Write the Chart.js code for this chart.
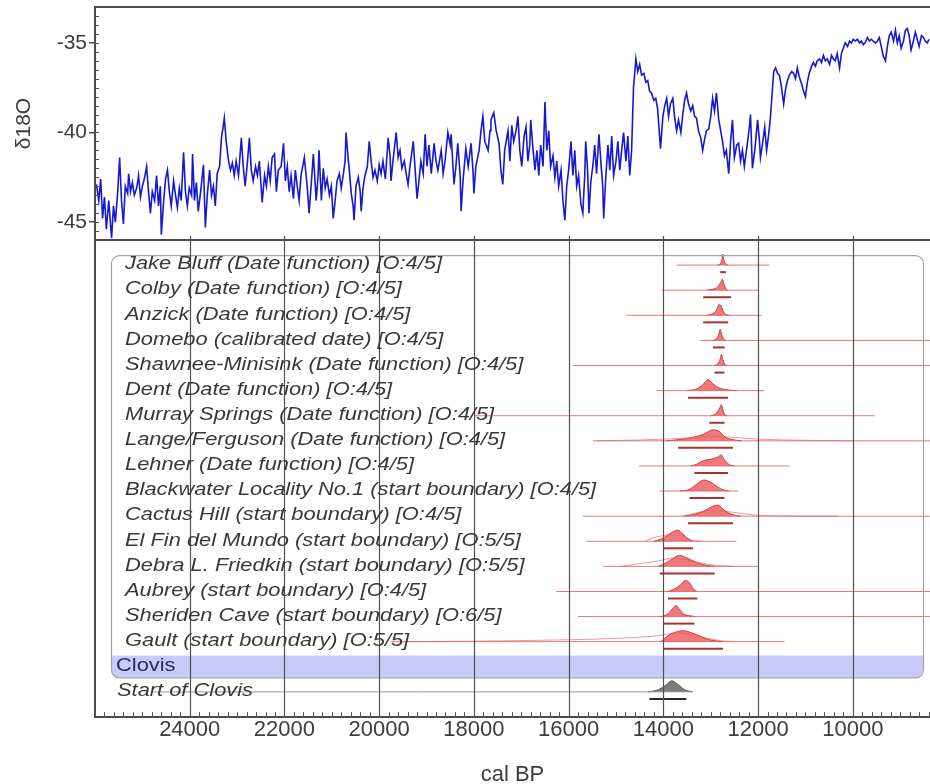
<!DOCTYPE html>
<html>
<head>
<meta charset="utf-8">
<script src="https://cdn.jsdelivr.net/npm/chart.js@4.4.1/dist/chart.umd.min.js"></script>
<style>
  html, body { margin: 0; padding: 0; background: #fff; }
  #wrap { width: 930px; height: 784px; position: relative; }
</style>
</head>
<body>
<div id="wrap"><canvas id="chart"></canvas></div>
<script>
// Ice core δ18O record (top panel) and Clovis site chronology (bottom panel), cal BP.

const xTicks = [24000, 22000, 20000, 18000, 16000, 14000, 12000, 10000];
const d18oTicks = [-45, -40, -35];

const iceYears = [
  25970, 25920, 25880, 25840, 25800, 25760, 25710, 25650, 25610, 25570,
  25520, 25480, 25440, 25400, 25360, 25310, 25290, 25250, 25210, 25170,
  25120, 25080, 25040, 25000, 24960, 24910, 24870, 24830, 24790, 24740,
  24700, 24660, 24620, 24600, 24550, 24510, 24470, 24430, 24390, 24340,
  24300, 24260, 24220, 24180, 24130, 24090, 24050, 24010, 23960, 23940,
  23900, 23860, 23820, 23770, 23710, 23670, 23630, 23580, 23540, 23500,
  23460, 23420, 23370, 23330, 23290, 23270, 23230, 23180, 23140, 23100,
  23060, 23020, 22970, 22910, 22870, 22830, 22780, 22740, 22700, 22660,
  22610, 22570, 22530, 22470, 22420, 22380, 22340, 22300, 22260, 22210,
  22170, 22130, 22070, 22020, 21980, 21940, 21900, 21860, 21810, 21770,
  21730, 21690, 21650, 21580, 21520, 21480, 21430, 21390, 21330, 21290,
  21270, 21220, 21180, 21140, 21100, 21050, 21010, 20970, 20930, 20890,
  20840, 20800, 20760, 20720, 20700, 20650, 20630, 20590, 20550, 20530,
  20490, 20440, 20400, 20380, 20340, 20300, 20250, 20210, 20170, 20130,
  20090, 20040, 20000, 19960, 19920, 19870, 19810, 19770, 19750, 19710,
  19640, 19600, 19560, 19520, 19470, 19430, 19390, 19350, 19280, 19240,
  19200, 19160, 19120, 19070, 19030, 18990, 18950, 18900, 18840, 18800,
  18760, 18690, 18650, 18610, 18550, 18500, 18480, 18420, 18380, 18340,
  18290, 18270, 18230, 18170, 18120, 18060, 18020, 18000, 17960, 17890,
  17850, 17810, 17770, 17700, 17660, 17640, 17580, 17530, 17470, 17430,
  17390, 17350, 17280, 17240, 17200, 17160, 17110, 17070, 17030, 16990,
  16940, 16900, 16860, 16820, 16800, 16750, 16710, 16670, 16630, 16590,
  16540, 16500, 16460, 16420, 16380, 16330, 16290, 16250, 16210, 16160,
  16120, 16080, 16040, 16000, 15950, 15910, 15870, 15830, 15790, 15740,
  15700, 15660, 15640, 15600, 15570, 15530, 15490, 15450, 15410, 15360,
  15320, 15280, 15260, 15220, 15170, 15130, 15090, 15050, 15000, 14960,
  14920, 14880, 14840, 14790, 14750, 14710, 14670, 14630, 14580, 14540,
  14500, 14460, 14410, 14370, 14330, 14290, 14250, 14200, 14160, 14120,
  14060, 14010, 13970, 13930, 13890, 13850, 13800, 13760, 13720, 13680,
  13630, 13590, 13550, 13510, 13470, 13420, 13380, 13340, 13300, 13260,
  13210, 13170, 13130, 13090, 13040, 13000, 12960, 12920, 12880, 12830,
  12790, 12750, 12710, 12670, 12620, 12580, 12540, 12500, 12450, 12410,
  12370, 12330, 12290, 12220, 12180, 12160, 12120, 12070, 12010, 11970,
  11950, 11910, 11860, 11820, 11780, 11740, 11700, 11670, 11630, 11590,
  11550, 11510, 11460, 11420, 11380, 11340, 11290, 11250, 11210, 11170,
  11130, 11080, 11040, 11000, 10960, 10920, 10870, 10830, 10790, 10750,
  10700, 10660, 10620, 10580, 10540, 10490, 10450, 10410, 10370, 10330,
  10280, 10240, 10200, 10160, 10110, 10070, 10030, 9990, 9950, 9900,
  9860, 9820, 9780, 9740, 9690, 9650, 9610, 9570, 9520, 9480,
  9440, 9400, 9360, 9310, 9270, 9230, 9190, 9140, 9100, 9060,
  9020, 8980, 8930, 8890, 8850, 8810, 8770, 8720, 8680, 8640,
  8600, 8550, 8510, 8470, 8430, 8390
];

const iceD18O = [
  -42.9, -43.8, -42.6, -44.8, -43.6, -45.4, -43.8, -45.9, -44.1, -45.0,
  -43.3, -41.4, -43.8, -45.1, -43.0, -43.4, -42.3, -43.3, -42.8, -43.5,
  -43.1, -42.4, -43.6, -43.0, -42.6, -41.9, -43.3, -44.5, -43.3, -43.8,
  -42.4, -44.1, -43.0, -45.7, -43.8, -42.6, -42.1, -43.3, -44.1, -42.7,
  -43.5, -44.2, -43.1, -43.8, -41.1, -43.3, -44.1, -43.1, -43.5, -41.2,
  -43.8, -42.8, -44.4, -43.3, -41.8, -45.3, -43.5, -42.1, -43.5, -43.0,
  -44.1, -42.3, -41.9, -40.3, -39.6, -39.2, -40.5, -41.6, -42.1, -41.7,
  -42.4, -41.6, -42.4, -40.3, -41.9, -43.0, -41.6, -40.3, -42.1, -42.7,
  -41.9, -42.4, -41.6, -43.9, -42.4, -43.0, -41.9, -42.7, -41.4, -41.2,
  -43.3, -42.1, -41.9, -40.6, -42.7, -41.9, -43.3, -42.4, -43.7, -42.1,
  -43.0, -43.8, -42.4, -41.4, -43.0, -44.5, -42.7, -41.2, -43.8, -42.4,
  -41.0, -43.8, -42.0, -43.1, -42.6, -43.5, -43.0, -44.8, -43.8, -42.7,
  -42.3, -43.1, -42.4, -41.6, -40.0, -41.6, -42.1, -43.4, -44.1, -44.9,
  -43.0, -42.5, -43.3, -44.4, -43.1, -42.4, -41.9, -40.5, -41.6, -42.5,
  -42.1, -42.7, -41.8, -42.3, -41.6, -42.6, -40.3, -41.3, -42.7, -41.6,
  -40.0, -41.4, -41.0, -42.0, -41.6, -42.3, -42.9, -41.9, -40.5, -42.1,
  -43.7, -42.7, -41.6, -42.3, -40.1, -41.9, -40.7, -42.3, -40.6, -41.6,
  -42.1, -41.0, -42.3, -41.6, -40.0, -40.7, -40.1, -42.9, -41.9, -40.6,
  -42.4, -44.4, -42.7, -40.9, -41.9, -40.6, -42.1, -43.4, -41.9, -41.0,
  -39.9, -39.1, -40.5, -41.0, -39.9, -39.3, -38.9, -39.9, -40.6, -42.1,
  -42.9, -41.0, -39.9, -41.6, -39.6, -40.5, -39.9, -39.1, -41.0, -41.9,
  -40.2, -39.7, -41.6, -40.7, -39.3, -41.0, -42.1, -41.0, -42.4, -40.7,
  -41.9, -38.3, -41.0, -39.9, -41.9, -41.3, -42.5, -41.6, -43.0, -42.1,
  -43.8, -44.9, -43.0, -42.1, -40.5, -42.4, -41.0, -43.0, -42.4, -44.0,
  -44.5, -42.4, -40.5, -42.1, -44.5, -42.7, -41.9, -40.7, -42.3, -40.1,
  -41.6, -43.0, -44.8, -42.7, -40.7, -42.1, -40.2, -42.4, -41.6, -40.5,
  -42.1, -41.0, -40.0, -41.6, -40.2, -42.4, -41.0, -37.5, -35.9, -36.6,
  -36.2, -36.8, -36.7, -37.2, -37.1, -37.7, -37.8, -38.2, -38.1, -38.7,
  -40.9, -39.1, -38.5, -38.1, -39.1, -38.4, -38.1, -39.2, -39.9, -39.3,
  -40.0, -39.0, -38.2, -37.8, -38.4, -38.8, -38.5, -39.1, -39.2, -39.9,
  -40.3, -41.0, -40.4, -39.9, -39.8, -39.1, -38.1, -38.8, -37.8, -39.3,
  -39.9, -40.5, -41.3, -41.0, -42.3, -40.5, -39.3, -41.4, -40.7, -40.6,
  -41.6, -41.0, -41.9, -40.5, -39.6, -39.0, -42.0, -41.0, -39.3, -40.5,
  -41.4, -40.7, -39.7, -41.0, -40.2, -39.2, -37.7, -36.6, -36.4, -36.7,
  -36.8, -37.4, -38.4, -37.6, -37.1, -36.8, -36.6, -36.7, -37.0, -36.4,
  -36.9, -37.3, -37.7, -38.0, -37.2, -36.7, -36.3, -36.1, -36.3, -36.0,
  -35.9, -36.1, -35.7, -36.0, -35.9, -36.2, -35.7, -35.9, -36.0, -35.6,
  -36.4, -35.6, -35.3, -35.0, -35.2, -34.9, -35.0, -34.8, -34.9, -34.8,
  -35.0, -34.9, -35.1, -35.0, -34.7, -34.9, -34.8, -34.9, -35.0, -34.9,
  -34.7, -35.2, -35.7, -36.0, -35.2, -34.6, -34.4, -34.9, -34.3, -35.0,
  -34.6, -35.3, -34.9, -34.3, -34.2, -34.6, -35.4, -34.9, -34.4, -34.8,
  -35.2, -34.6, -34.7, -34.9, -35.0, -34.8
];

const siteNames = [
  'Jake Bluff (Date function) [O:4/5]',
  'Colby (Date function) [O:4/5]',
  'Anzick (Date function) [O:4/5]',
  'Domebo (calibrated date) [O:4/5]',
  'Shawnee-Minisink (Date function) [O:4/5]',
  'Dent (Date function) [O:4/5]',
  'Murray Springs (Date function) [O:4/5]',
  'Lange/Ferguson (Date function) [O:4/5]',
  'Lehner (Date function) [O:4/5]',
  'Blackwater Locality No.1 (start boundary) [O:4/5]',
  'Cactus Hill (start boundary) [O:4/5]',
  'El Fin del Mundo (start boundary) [O:5/5]',
  'Debra L. Friedkin (start boundary) [O:5/5]',
  'Aubrey (start boundary) [O:4/5]',
  'Sheriden Cave (start boundary) [O:6/5]',
  'Gault (start boundary) [O:5/5]'
];
const groupName = 'Clovis';
const startName = 'Start of Clovis';

// [older, younger] cal BP; 7000 means the prior runs off the right edge
const priorRanges = [
  [13720, 11760], [14030, 12000], [14780, 11930], [13220, 7000],
  [15910, 7000], [14150, 11870], [17990, 9540], [15490, 7000],
  [14510, 11340], [14080, 12420], [15700, 7000], [15630, 12460],
  [15270, 12000], [16260, 7000], [15800, 7000], [19740, 11440]
];

// 95% ranges drawn under each distribution
const ranges95 = [
  [12800, 12680], [13160, 12570], [13160, 12630], [12950, 12705],
  [12920, 12710], [13478, 12633], [13030, 12710], [13690, 12530],
  [13345, 12633], [13450, 12710], [13478, 12528], [14007, 13373],
  [14077, 12916], [13900, 13282], [14007, 13345], [14007, 12740]
];

// posterior shapes: [year, height relative to peak]
const posteriors = [
  [[12860, 0], [12800, 0.12], [12765, 0.45], [12745, 1], [12725, 0.5], [12690, 0.12], [12630, 0]],
  [[13080, 0], [12950, 0.1], [12850, 0.3], [12790, 0.7], [12755, 1], [12725, 0.6], [12690, 0.2], [12640, 0]],
  [[13080, 0], [12960, 0.15], [12880, 0.45], [12820, 1], [12780, 0.85], [12730, 0.3], [12660, 0.05], [12600, 0]],
  [[12960, 0], [12880, 0.15], [12830, 0.55], [12800, 1], [12770, 0.55], [12730, 0.15], [12680, 0]],
  [[12930, 0], [12850, 0.15], [12800, 0.6], [12775, 1], [12745, 0.55], [12700, 0.12], [12640, 0]],
  [[13500, 0], [13300, 0.15], [13150, 0.6], [13060, 1], [12960, 0.65], [12850, 0.3], [12700, 0.1], [12450, 0]],
  [[13000, 0], [12900, 0.15], [12820, 0.6], [12775, 1], [12740, 0.5], [12700, 0.1], [12650, 0]],
  [[13950, 0], [13700, 0.1], [13400, 0.3], [13150, 0.6], [12950, 1], [12820, 0.85], [12700, 0.35], [12500, 0.08], [12350, 0]],
  [[13420, 0], [13300, 0.15], [13150, 0.5], [13000, 0.6], [12850, 0.8], [12775, 1], [12720, 0.6], [12600, 0.1], [12500, 0]],
  [[13650, 0], [13450, 0.15], [13300, 0.6], [13150, 1], [13000, 0.8], [12850, 0.35], [12700, 0.05], [12620, 0]],
  [[13550, 0], [13350, 0.15], [13150, 0.45], [12950, 0.9], [12850, 1], [12720, 0.55], [12550, 0.15], [12360, 0]],
  [[14200, 0], [14050, 0.2], [13900, 0.55], [13750, 0.95], [13690, 1], [13600, 0.7], [13480, 0.2], [13380, 0]],
  [[14100, 0], [13950, 0.3], [13800, 0.7], [13660, 1], [13500, 0.75], [13300, 0.35], [13100, 0.1], [12900, 0]],
  [[13900, 0], [13780, 0.2], [13650, 0.55], [13530, 1], [13450, 0.8], [13360, 0.2], [13290, 0]],
  [[14050, 0], [13900, 0.25], [13800, 0.75], [13730, 1], [13670, 0.7], [13560, 0.2], [13400, 0.05], [13330, 0]],
  [[14050, 0], [13900, 0.55], [13750, 0.85], [13580, 1], [13400, 0.8], [13200, 0.45], [13000, 0.15], [12750, 0]]
];

// unmodelled (prior) outlines where they show outside the posterior
const priorShapes = [
  null, null, null, null, null, null, null,
  [[15400, 0], [14500, 0.08], [13500, 0.25], [12900, 0.4], [12000, 0.15], [11000, 0.05], [10000, 0]],
  null, null,
  [[13600, 0], [13000, 0.5], [12600, 0.4], [12200, 0.15], [11500, 0.02], [10300, 0]],
  [[14400, 0], [14150, 0.4], [13950, 0.55], [13750, 0.9], [13600, 0.6], [13400, 0.1], [13200, 0]],
  [[14900, 0], [14500, 0.25], [14100, 0.5], [13800, 0.75], [13500, 0.6], [13000, 0.15], [12500, 0]],
  null, null,
  [[19500, 0], [17000, 0.1], [15000, 0.3], [14100, 0.55], [13700, 0.8], [13300, 0.5], [12800, 0.1], [12500, 0]]
];

const startPrior = [24800, 13400];
const startRange = [14295, 13514];
const startPosterior = [[14330, 0], [14100, 0.2], [13950, 0.6], [13820, 1], [13700, 0.7], [13550, 0.2], [13380, 0]];

(function () {
    'use strict';

    const PEAK = 0.44;        // distribution peak height, in row units
    const BAR_DROP = 0.28;    // 95% range bar sits under the baseline
    const GROUP_ROW = siteNames.length;
    const START_ROW = siteNames.length + 1;
    const ink = '#3c3c3c';
    const axisColor = '#4a4a4a';

    Chart.defaults.font.family = '"Liberation Sans", Arial, sans-serif';
    Chart.defaults.color = ink;

    const red = {
        line: 'rgba(225,95,95,0.85)', prior: 'rgba(220,90,90,0.6)',
        fill: 'rgba(240,105,105,0.9)', edge: '#c84040', bar: '#a83232'
    };
    const grey = {
        line: '#9a9a9a', prior: '#9a9a9a',
        fill: '#7c7c7c', edge: '#555', bar: '#2a2a2a'
    };

    const datasets = [{
        yAxisID: 'd18o',
        data: iceYears.map((yr, i) => ({ x: yr, y: iceD18O[i] })),
        borderColor: '#1818cc',
        borderWidth: 1.6,
        pointRadius: 0,
        tension: 0
    }];

    function addRow(row, prior, range, post, shape, pal) {
        datasets.push({
            yAxisID: 'rows', data: prior.map(x => ({ x, y: row })),
            borderColor: pal.line, borderWidth: 1, pointRadius: 0
        });
        if (shape) {
            datasets.push({
                yAxisID: 'rows', data: shape.map(([x, h]) => ({ x, y: row - h * PEAK })),
                borderColor: pal.prior, borderWidth: 1, pointRadius: 0,
                cubicInterpolationMode: 'monotone', fill: false
            });
        }
        datasets.push({
            yAxisID: 'rows', data: post.map(([x, h]) => ({ x, y: row - h * PEAK })),
            borderColor: pal.edge, backgroundColor: pal.fill, borderWidth: 1,
            pointRadius: 0, cubicInterpolationMode: 'monotone', fill: { value: row }
        });
        datasets.push({
            yAxisID: 'rows', data: range.map(x => ({ x, y: row + BAR_DROP })),
            borderColor: pal.bar, borderWidth: 2, pointRadius: 0
        });
    }

    siteNames.forEach((_, i) => addRow(i, priorRanges[i], ranges95[i], posteriors[i], priorShapes[i], red));
    addRow(START_ROW, startPrior, startRange, startPosterior, null, grey);

    function stretchedText(ctx, text, x, y, sx) {
        ctx.save();
        ctx.translate(x, y);
        ctx.scale(sx, 1);
        ctx.fillText(text, 0, 0);
        ctx.restore();
    }

    const decor = {
        id: 'decor',
        beforeDatasetsDraw(chart) {
            const { ctx, chartArea: a, scales: { rows } } = chart;
            const x0 = a.left + 16, x1 = a.right - 7;
            const bandTop = rows.getPixelForValue(GROUP_ROW - 0.45);
            const boxBottom = rows.getPixelForValue(GROUP_ROW + 0.42);
            ctx.save();
            ctx.fillStyle = '#c9c9fa';
            ctx.beginPath();
            ctx.roundRect(x0, bandTop, x1 - x0, boxBottom - bandTop, [0, 0, 8, 8]);
            ctx.fill();
            ctx.restore();
        },
        afterDatasetsDraw(chart) {
            const { ctx, chartArea: a, scales: { x, rows, d18o } } = chart;
            ctx.save();

            // group outline
            const x0 = a.left + 16, x1 = a.right - 7;
            const boxTop = rows.getPixelForValue(-0.4);
            const boxBottom = rows.getPixelForValue(GROUP_ROW + 0.42);
            ctx.strokeStyle = '#a2a2a2';
            ctx.lineWidth = 1.2;
            ctx.beginPath();
            ctx.roundRect(x0 + 0.5, boxTop + 0.5, x1 - x0, boxBottom - boxTop, 8);
            ctx.stroke();

            // vertical grid in the lower panel, little marks above the divider
            ctx.strokeStyle = '#505050';
            ctx.lineWidth = 1.2;
            xTicks.forEach(v => {
                const px = Math.round(x.getPixelForValue(v)) + 0.5;
                ctx.beginPath();
                ctx.moveTo(px, rows.top);
                ctx.lineTo(px, rows.bottom);
                ctx.moveTo(px, rows.top);
                ctx.lineTo(px, rows.top - 4);
                ctx.stroke();
            });

            // minor ticks on the time axis
            ctx.lineWidth = 1;
            ctx.strokeStyle = '#555';
            for (let v = 8400; v <= 26000; v += 200) {
                const px = Math.round(x.getPixelForValue(v)) + 0.5;
                ctx.beginPath();
                ctx.moveTo(px, a.bottom);
                ctx.lineTo(px, a.bottom - 5);
                ctx.stroke();
            }
            // minor ticks on the δ18O axis
            for (let v = -46; v <= -33; v += 0.5) {
                const py = Math.round(d18o.getPixelForValue(v)) + 0.5;
                ctx.beginPath();
                ctx.moveTo(a.left, py);
                ctx.lineTo(a.left + 4, py);
                ctx.stroke();
            }

            // frame: top edge and panel divider
            ctx.strokeStyle = axisColor;
            ctx.lineWidth = 2;
            ctx.beginPath();
            ctx.moveTo(a.left, a.top);
            ctx.lineTo(a.right, a.top);
            ctx.moveTo(a.left, rows.top);
            ctx.lineTo(a.right, rows.top);
            ctx.stroke();

            // row labels
            ctx.textBaseline = 'middle';
            ctx.textAlign = 'left';
            ctx.fillStyle = '#383838';
            ctx.font = 'italic 19px "Liberation Sans"';
            siteNames.forEach((name, i) => {
                stretchedText(ctx, name, a.left + 30, rows.getPixelForValue(i) - 1, 1.15);
            });
            stretchedText(ctx, startName, a.left + 22, rows.getPixelForValue(START_ROW) - 1, 1.15);
            ctx.font = '19px "Liberation Sans"';
            ctx.fillStyle = '#2b2b60';
            stretchedText(ctx, groupName, a.left + 21, rows.getPixelForValue(GROUP_ROW) - 1, 1.15);

            ctx.restore();
        }
    };

    new Chart(document.getElementById('chart'), {
        type: 'line',
        data: { datasets },
        options: {
            responsive: true,
            maintainAspectRatio: false,
            animation: false,
            events: [],
            layout: { padding: { top: 7, left: 0, right: 0, bottom: 0 } },
            plugins: { legend: { display: false }, tooltip: { enabled: false } },
            scales: {
                x: {
                    type: 'linear',
                    min: 8370,
                    max: 26000,
                    reverse: true,
                    afterBuildTicks: s => { s.ticks = xTicks.map(v => ({ value: v })); },
                    ticks: { callback: v => String(v), font: { size: 22 }, color: ink, padding: 0, maxRotation: 0, autoSkip: false },
                    grid: { display: false, drawTicks: false },
                    border: { display: true, color: axisColor, width: 2 },
                    title: { display: true, text: 'cal BP', font: { size: 22, lineHeight: 1 }, color: ink, padding: { top: 0, bottom: -2 } },
                    afterFit: s => { s.height = 67; s.paddingLeft = 0; s.paddingRight = 0; }
                },
                rows: {
                    type: 'linear',
                    position: 'left',
                    stack: 'left',
                    stackWeight: 477,
                    weight: 1,
                    min: -1,
                    max: 18,
                    reverse: true,
                    ticks: { display: false },
                    grid: { display: false },
                    border: { display: true, color: axisColor, width: 2 },
                    afterFit: s => { s.width = 95; s.paddingTop = 0; s.paddingBottom = 0; }
                },
                d18o: {
                    type: 'linear',
                    position: 'left',
                    stack: 'left',
                    stackWeight: 233,
                    weight: 2,
                    min: -46,
                    max: -33,
                    afterBuildTicks: s => { s.ticks = d18oTicks.map(v => ({ value: v })); },
                    ticks: { callback: v => String(v), font: { size: 21 }, color: ink, padding: 2 },
                    grid: { drawOnChartArea: false, drawTicks: true, tickLength: 6, color: axisColor, lineWidth: 1.5 },
                    border: { display: true, color: axisColor, width: 2 },
                    title: { display: true, text: 'δ18O', font: { size: 21 }, color: ink, padding: { top: 12, bottom: 0 } },
                    afterFit: s => { s.width = 95; s.paddingTop = 0; s.paddingBottom = 0; }
                }
            }
        },
        plugins: [decor]
    });
})();
</script>
</body>
</html>
